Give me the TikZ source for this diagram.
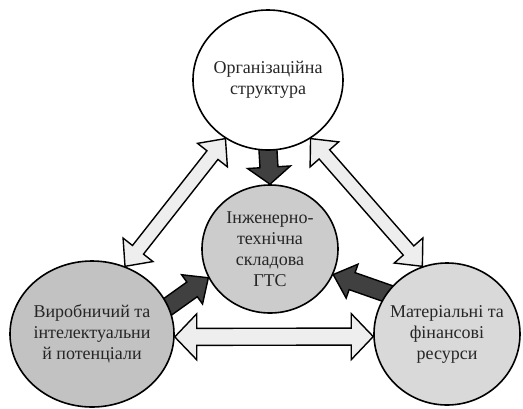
\documentclass[tikz,border=0pt]{standalone}
\usepackage{fontspec}
\setmainfont{Liberation Serif}
\usetikzlibrary{shapes.geometric,calc,backgrounds}
\definecolor{leftgray}{HTML}{C2C2C2}
\definecolor{midgray}{HTML}{CCCCCC}
\definecolor{rightgray}{HTML}{D9D9D9}
\definecolor{lightfill}{HTML}{EEEEEE}
\definecolor{darkfill}{HTML}{404040}
% #1 style, #2 start, #3 end, #4 shaft half width, #5 head half width, #6 head length
\newcommand\fatarrow[6]{%
  \path[#1] ($(#2)!#4!90:(#3)$) -- ($($(#3)!#6!(#2)$)!#4!90:(#3)$) -- ($($(#3)!#6!(#2)$)!#5!90:(#3)$) -- (#3)
    -- ($($(#3)!#6!(#2)$)!#5!-90:(#3)$) -- ($($(#3)!#6!(#2)$)!#4!-90:(#3)$) -- ($(#2)!#4!-90:(#3)$) -- cycle;}
\newcommand\dblarrow[6]{%
  \path[#1] (#2) -- ($($(#2)!#6!(#3)$)!#5!90:(#3)$) -- ($($(#2)!#6!(#3)$)!#4!90:(#3)$)
    -- ($($(#3)!#6!(#2)$)!#4!90:(#3)$) -- ($($(#3)!#6!(#2)$)!#5!90:(#3)$) -- (#3)
    -- ($($(#3)!#6!(#2)$)!#5!-90:(#3)$) -- ($($(#3)!#6!(#2)$)!#4!-90:(#3)$)
    -- ($($(#2)!#6!(#3)$)!#4!-90:(#3)$) -- ($($(#2)!#6!(#3)$)!#5!-90:(#3)$) -- cycle;}
\begin{document}
\begin{tikzpicture}[x=1pt,y=-1pt,
  circ/.style={ellipse,draw=black,line width=1.6pt,inner xsep=-25pt,inner ysep=-25pt,
    align=center,font=\fontsize{18pt}{21pt}\selectfont,text=black!85},
  darkarrow/.style={draw=black,line width=1.4pt,fill=darkfill,line join=miter},
  lightarrow/.style={draw=black,line width=1.4pt,fill=lightfill,line join=miter}]
\useasboundingbox (0,0) rectangle (523,408);
\node[circ,fill=white,minimum width=150pt,minimum height=140pt] (org) at (268,80) {Організаційна\\структура};
\node[circ,fill=midgray,minimum width=136pt,minimum height=128pt] (eng) at (270,249) {Інженерно-\\технічна\\складова\\ГТС};
\node[circ,fill=leftgray,minimum width=164pt,minimum height=146pt] (vyr) at (92,334) {Виробничий та\\інтелектуальни\\й потенціали};
\node[circ,fill=rightgray,minimum width=146pt,minimum height=142pt] (mat) at (447,334) {Матеріальні та\\фінансові\\ресурси};
\begin{pgfonlayer}{background}
  \coordinate (t1) at ($(org.south)!-6pt!(eng.north)$);
  \fatarrow{darkarrow}{t1}{eng.north}{9pt}{21.5pt}{17pt}
  \coordinate (t2) at ($(vyr.20)!-6pt!(eng.205)$);
  \fatarrow{darkarrow}{t2}{eng.205}{9pt}{18pt}{20pt}
  \coordinate (t3) at ($(mat.146)!-6pt!(eng.338)$);
  \fatarrow{darkarrow}{t3}{eng.338}{9pt}{18pt}{20pt}
\end{pgfonlayer}
\dblarrow{lightarrow}{vyr.64}{org.234}{7pt}{19pt}{21pt}
\dblarrow{lightarrow}{mat.110}{org.306}{7pt}{19pt}{21pt}
\dblarrow{lightarrow}{vyr.358}{mat.182}{8.5pt}{23pt}{22pt}
\end{tikzpicture}
\end{document}
